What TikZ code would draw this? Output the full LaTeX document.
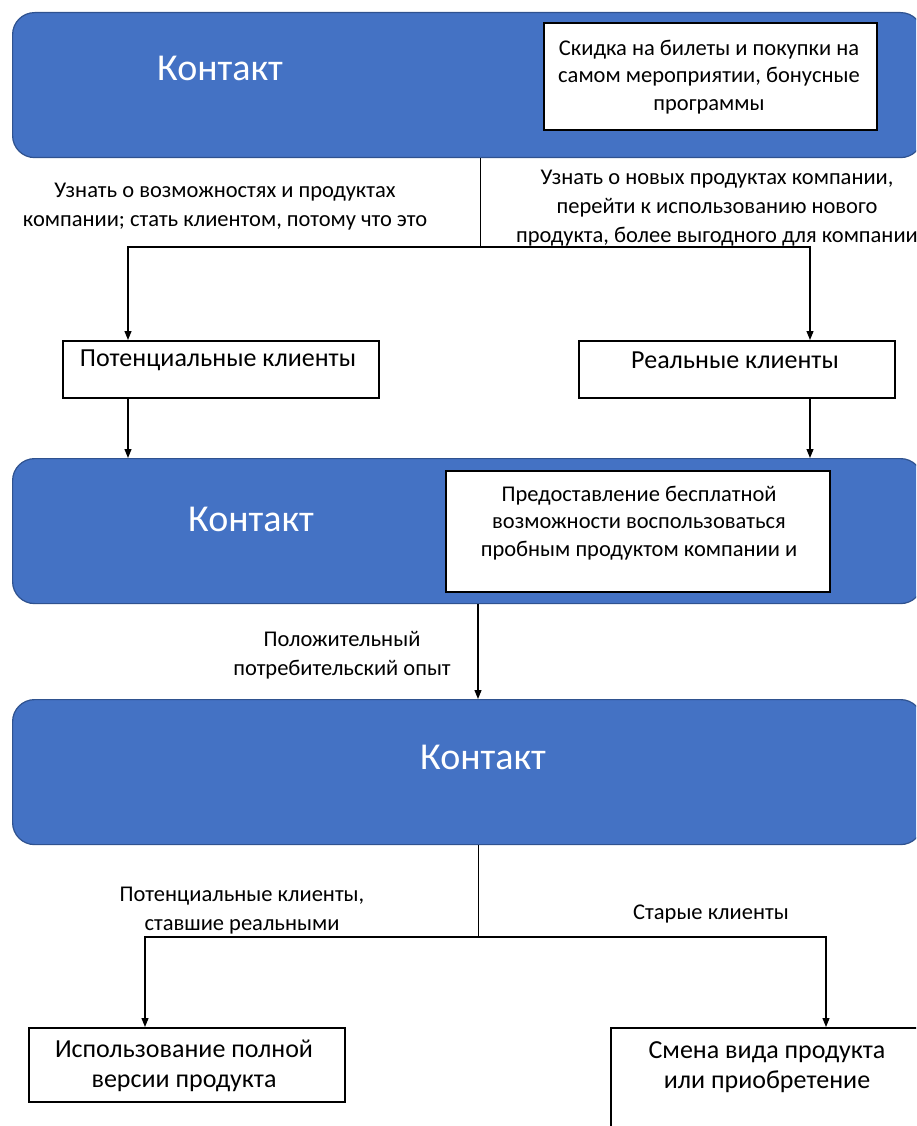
\documentclass[tikz,border=0pt]{standalone}
\usepackage{fontspec}
\setmainfont{Carlito}
\usetikzlibrary{arrows.meta}
\definecolor{officeblue}{HTML}{4472C4}
\definecolor{officeedge}{HTML}{2F528F}

\begin{document}
\begin{tikzpicture}[x=1pt,y=-1pt,
  contact/.style={draw=officeedge, line width=1.2pt, fill=officeblue,
    rounded corners=22pt, anchor=north west, inner sep=0pt,
    minimum width=910pt, minimum height=145pt},
  contacttitle/.style={text=white, font=\fontsize{38}{42}\selectfont},
  infobox/.style={draw=black, line width=1.6pt, fill=white, anchor=north west, inner sep=0pt},
  boxtext/.style={align=center, font=\fontsize{26}{30}\selectfont},
  notetext/.style={align=center, font=\fontsize{22.5}{27.5}\selectfont},
  smalltext/.style={align=center, font=\fontsize{22.5}{29}\selectfont},
  link/.style={draw=black, line width=1.2pt},
  stem/.style={draw=black, line width=0.9pt},
  arr/.style={link, -{Triangle[length=9pt,width=7pt]}}
]
\path[use as bounding box] (0,0) rectangle (916,1126);
\clip (0,0) rectangle (916,1126);

% first contact block
\node[contact] (c1) at (12,12) {};
\node[contacttitle] (c1t) at (220,68) {Контакт};
\node[infobox, minimum width=333pt, minimum height=107pt] (b1) at (543,22) {};
\node[notetext] (b1t) at (709,77) {Скидка на билеты и покупки на\\самом мероприятии, бонусные\\программы};

% split into two client groups
\coordinate (j1) at (480,247);
\coordinate (j1l) at (128,247);
\coordinate (j1r) at (810,247);
\node[smalltext] (l1) at (225,207) {Узнать о возможностях и продуктах\\компании; стать клиентом, потому что это};
\node[smalltext] (l2) at (717,208) {Узнать о новых продуктах компании,\\перейти к использованию нового\\продукта, более выгодного для компании};

\node[infobox, minimum width=316pt, minimum height=57pt] (pot) at (62,340) {};
\node[boxtext] (pott) at (218,360) {Потенциальные клиенты};
\node[infobox, minimum width=316pt, minimum height=57pt] (real) at (578,340) {};
\node[boxtext] (realt) at (735,360) {Реальные клиенты};

\draw[stem] (c1.south -| j1) -- (j1);
\draw[arr] (j1) -- (j1l) -- (j1l |- pot.north);
\draw[arr] (j1) -- (j1r) -- (j1r |- real.north);

% second contact block
\node[contact] (c2) at (12,458) {};
\node[contacttitle] (c2t) at (251,519) {Контакт};
\node[infobox, minimum width=384pt, minimum height=121pt] (b2) at (445,470) {};
\node[notetext] (b2t) at (639,523) {Предоставление бесплатной\\возможности воспользоваться\\пробным продуктом компании и};

\draw[arr] (j1l |- pot.south) -- (j1l |- c2.north);
\draw[arr] (j1r |- real.south) -- (j1r |- c2.north);

% third contact block
\node[contact] (c3) at (12,699) {};
\node[contacttitle] (c3t) at (483,757) {Контакт};
\coordinate (j2) at (478,604);
\draw[arr] (j2) -- (j2 |- c3.north);
\node[smalltext] (l3) at (342,655) {Положительный\\потребительский опыт};

% outcomes
\coordinate (j3) at (478,937);
\coordinate (j3l) at (145,937);
\coordinate (j3r) at (826,937);
\node[smalltext] (l4) at (242,911) {Потенциальные клиенты,\\ставшие реальными};
\node[smalltext] (l5) at (711,914) {Старые клиенты};

\node[infobox, minimum width=316pt, minimum height=74pt] (full) at (28,1027) {};
\node[boxtext] (fullt) at (184,1066) {Использование полной\\версии продукта};
\node[infobox, minimum width=320pt, minimum height=120pt] (swap) at (610,1027) {};
\node[boxtext] (swapt) at (767,1067) {Смена вида продукта\\или приобретение};

\draw[stem] (c3.south -| j3) -- (j3);
\draw[arr] (j3) -- (j3l) -- (j3l |- full.north);
\draw[arr] (j3) -- (j3r) -- (j3r |- swap.north);
\end{tikzpicture}
\end{document}
